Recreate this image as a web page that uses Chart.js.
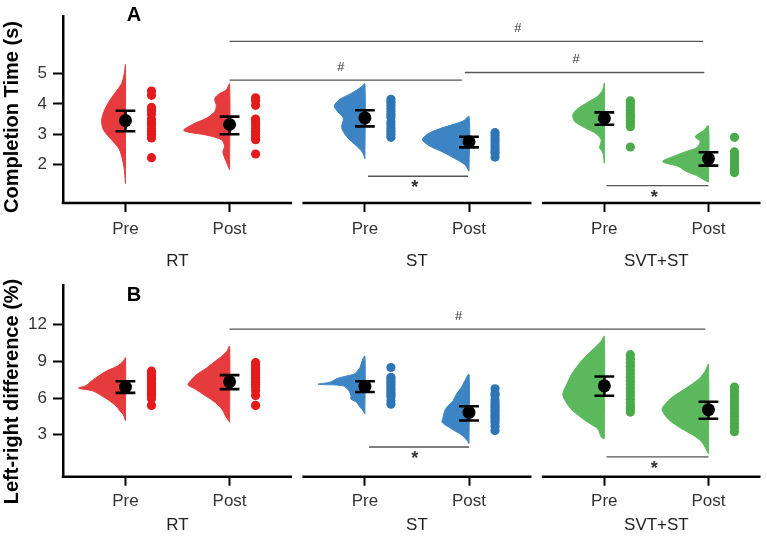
<!DOCTYPE html>
<html>
<head>
<meta charset="utf-8">
<script src="https://cdn.jsdelivr.net/npm/chart.js@4.4.0/dist/chart.umd.min.js"></script>
<style>
  html, body { margin: 0; padding: 0; background: #fff; }
  #wrap { position: relative; width: 767px; height: 538px; }
  canvas { position: absolute; left: 0; }
</style>
</head>
<body>
<div id="wrap">
  <canvas id="chartA" width="767" height="269" style="top:0"></canvas>
  <canvas id="chartB" width="767" height="269" style="top:269px"></canvas>
</div>
<script>
// raincloud plots: half violin + mean/CI + raw points, three training groups

const groups = ['RT', 'ST', 'SVT+ST'];
const phases = ['Pre', 'Post'];
const dotColors = ['#e41a1c', '#2e75b5', '#4aaa4a'];
const violinColors = ['#e63b3d', '#3c84c4', '#5cb85c'];

// A: completion time (s), order RT-Pre, RT-Post, ST-Pre, ST-Post, SVT-Pre, SVT-Post
const timeTicks = [2, 3, 4, 5];
const timeMean = [3.45, 3.32, 3.54, 2.75, 3.52, 2.20];
const timeLow  = [3.10, 3.00, 3.26, 2.57, 3.31, 1.97];
const timeHigh = [3.77, 3.58, 3.79, 2.92, 3.72, 2.41];
const timeRaw = [
  [4.42, 4.28, 3.88, 3.78, 3.66, 3.5, 3.4, 3.3, 3.18, 3.08, 2.98, 2.88, 2.23],
  [4.2, 4.1, 3.95, 3.5, 3.4, 3.3, 3.2, 3.1, 3.0, 2.9, 2.82, 2.35],
  [4.15, 4.05, 3.95, 3.85, 3.75, 3.65, 3.55, 3.4, 3.3, 3.2, 3.1, 3.0, 2.9],
  [3.05, 2.95, 2.85, 2.75, 2.65, 2.55, 2.45, 2.38, 2.25],
  [4.1, 4.0, 3.9, 3.8, 3.7, 3.62, 3.55, 3.45, 3.35, 3.25, 2.58],
  [2.9, 2.42, 2.32, 2.22, 2.12, 2.02, 1.92, 1.82, 1.74]
];
// half-violin density as [value, density]
const timeDens = [
  [[1.38,0],[1.89,1.3],[2.2,3.3],[2.51,6.3],[2.82,14],[3.12,21.7],[3.43,24],[3.74,21.7],[4.05,17],[4.35,10.7],[4.66,4],[4.97,1.3],[5.28,0]],
  [[1.84,0],[1.89,0.7],[2.1,3.3],[2.41,6.7],[2.61,5],[2.82,8.3],[2.97,23],[3.12,46],[3.33,36.7],[3.53,23],[3.74,15],[3.94,13.3],[4.15,15],[4.3,11.7],[4.46,3.3],[4.66,0]],
  [[2.2,0],[2.41,2.5],[2.61,8.3],[2.92,18.3],[3.22,23.3],[3.53,21.7],[3.74,27.3],[3.94,30.7],[4.15,25],[4.35,13.3],[4.56,3.3],[4.66,0]],
  [[1.79,0],[2.0,4.3],[2.2,14.3],[2.41,26],[2.61,39.3],[2.82,46.7],[3.02,41],[3.22,26],[3.43,6],[3.58,0]],
  [[2.05,0],[2.41,1.7],[2.56,5],[2.66,4],[2.82,3.3],[3.02,8.3],[3.22,20],[3.43,30],[3.64,31.7],[3.84,26.7],[4.05,16.7],[4.25,6.7],[4.46,1.7],[4.68,0]],
  [[1.43,0],[1.48,3.3],[1.64,11.7],[1.79,23],[1.94,30],[2.1,46],[2.3,33],[2.46,20],[2.56,11.7],[2.76,8.3],[2.92,13.3],[3.12,5],[3.28,0]]
];
const timeSig = [
  {x1: 2.0, x2: 6.55, y: 6.05, lx: 4.77, label: '#'},
  {x1: 2.0, x2: 4.23, y: 4.78, lx: 3.07, label: '#'},
  {x1: 4.26, x2: 6.56, y: 5.03, lx: 5.33, label: '#'},
  {x1: 3.33, x2: 4.29, y: 1.62, lx: 3.78, label: '*'},
  {x1: 5.62, x2: 6.6, y: 1.31, lx: 6.08, label: '*'}
];

// B: left-right difference (%)
const lrTicks = [3, 6, 9, 12];
const lrMean = [6.90, 7.33, 6.95, 4.83, 7.00, 5.05];
const lrLow  = [6.42, 6.73, 6.50, 4.16, 6.19, 4.30];
const lrHigh = [7.38, 7.88, 7.38, 5.33, 7.77, 5.70];
const lrRaw = [
  [8.2, 8.0, 7.8, 7.6, 7.4, 7.2, 7.0, 6.8, 6.6, 6.4, 6.2, 5.95, 5.4],
  [8.9, 8.7, 8.5, 8.3, 8.1, 7.9, 7.7, 7.5, 7.3, 7.1, 6.9, 6.6, 6.2, 5.4],
  [8.5, 7.7, 7.5, 7.3, 7.1, 6.9, 6.7, 6.5, 6.3, 6.1, 5.8, 5.5],
  [6.76, 6.4, 6.2, 5.85, 5.6, 5.4, 5.2, 5.0, 4.8, 4.6, 4.4, 4.2, 4.0, 3.7, 3.35],
  [9.55, 9.2, 8.9, 8.6, 8.3, 8.0, 7.7, 7.4, 7.1, 6.8, 6.5, 6.2, 5.9, 5.6, 5.3, 5.1, 4.85],
  [6.9, 6.6, 6.3, 6.0, 5.7, 5.4, 5.1, 4.8, 4.5, 4.2, 3.9, 3.6, 3.25]
];
const lrDens = [
  [[4.16,0],[4.7,2.5],[4.97,6],[5.24,8],[5.78,16],[6.19,24],[6.59,33],[6.81,47],[7.0,40],[7.4,34],[7.81,27],[8.21,19],[8.62,8],[9.02,2.3],[9.29,0]],
  [[4.02,0],[4.16,1],[4.56,4.3],[5.1,7.7],[5.64,14.3],[6.19,24.3],[6.73,34.3],[7.08,41.7],[7.4,39.3],[7.94,32.7],[8.48,22.7],[9.02,14.3],[9.43,7.7],[9.83,2.7],[10.24,0]],
  [[4.7,0],[5.1,3],[5.24,5],[5.64,8],[5.92,14],[6.19,14],[6.59,16],[7.0,22],[7.13,47],[7.3,35],[7.62,27],[7.95,11],[8.08,9],[8.48,5],[9.02,3],[9.43,0]],
  [[2.27,0],[2.54,2],[2.8,5],[3.08,9],[3.35,15],[3.61,20],[4.02,27],[4.43,26],[4.97,24.3],[5.37,21],[5.78,16],[6.32,12.7],[6.86,7.7],[7.4,4.3],[7.94,0]],
  [[2.67,0],[2.8,3],[3.48,6.7],[4.02,16.7],[4.97,31.7],[5.6,38],[6.32,41.7],[7.13,37.7],[7.94,33],[8.48,28.3],[9.02,23.3],[9.57,16.7],[10.1,10],[10.65,3.3],[11.05,0]],
  [[1.46,0],[1.86,2.7],[2.4,6.7],[2.94,15],[3.48,26.7],[4.02,36.7],[4.56,43.3],[5.1,46.7],[5.51,43.3],[6.05,36.7],[6.59,26.7],[7.13,16.7],[7.67,8.3],[8.21,3.3],[8.76,0]]
];
const lrSig = [
  {x1: 2.0, x2: 6.57, y: 11.64, lx: 4.2, label: '#'},
  {x1: 3.34, x2: 4.3, y: 1.99, lx: 3.78, label: '*'},
  {x1: 5.62, x2: 6.6, y: 1.18, lx: 6.08, label: '*'}
];

// layout of the shared x scale: facets 2.3 units apart
const FACET_STEP = 2.3;
const DOT_DX = 0.25;
const CAP = 0.095;
const DENS_PX = 104.5;
const FONT = '"Liberation Sans", Arial, sans-serif';

function pos(i) { return 1 + (i % 2) + FACET_STEP * Math.floor(i / 2); }
const catPos = [0, 1, 2, 3, 4, 5].map(pos);

Chart.defaults.font.family = FONT;
Chart.defaults.font.size = 17;
Chart.defaults.color = '#333';

function buildDatasets(cfg) {
  const ds = [];
  // means
  ds.push({
    type: 'scatter', order: 0,
    data: cfg.mean.map((m, i) => ({x: pos(i), y: m})),
    pointRadius: 6.5, pointBackgroundColor: '#000', pointBorderWidth: 0
  });
  // error bars with caps
  const eb = [];
  cfg.mean.forEach((m, i) => {
    const c = pos(i);
    eb.push({x: c, y: cfg.low[i]}, {x: c, y: cfg.high[i]}, {x: c, y: null},
            {x: c - CAP, y: cfg.high[i]}, {x: c + CAP, y: cfg.high[i]}, {x: c, y: null},
            {x: c - CAP, y: cfg.low[i]}, {x: c + CAP, y: cfg.low[i]}, {x: c, y: null});
  });
  ds.push({
    type: 'line', order: 1, data: eb, spanGaps: false,
    borderColor: '#000', borderWidth: 2.6, pointRadius: 0, fill: false, tension: 0
  });
  // raw points and half violins
  cfg.raw.forEach((vals, i) => {
    const g = Math.floor(i / 2);
    ds.push({
      type: 'scatter', order: 2,
      data: vals.map(v => ({x: pos(i) + DOT_DX, y: v})),
      pointRadius: 4.6, pointBackgroundColor: dotColors[g], pointBorderWidth: 0
    });
  });
  cfg.dens.forEach((prof, i) => {
    const g = Math.floor(i / 2);
    const c = pos(i);
    const pts = prof.map(([v, d]) => ({x: c - d / DENS_PX, y: v}));
    pts.push({x: c, y: prof[0][0]});
    ds.push({
      type: 'line', order: 3, data: pts, fill: 'shape',
      backgroundColor: violinColors[g], borderColor: violinColors[g],
      borderWidth: 1, pointRadius: 0, tension: 0.3
    });
  });
  return ds;
}

function decorPlugin(cfg) {
  return {
    id: 'decor',
    afterDraw(chart) {
      const {ctx, chartArea: a, scales: {x, y}} = chart;
      ctx.save();
      // broken x axis, one piece per facet
      ctx.strokeStyle = '#000';
      ctx.lineWidth = 2.5;
      groups.forEach((g, k) => {
        const x0 = x.getPixelForValue(0.4 + FACET_STEP * k) - (k === 0 ? 1.25 : 0);
        const x1 = Math.min(x.getPixelForValue(2.6 + FACET_STEP * k), a.right);
        ctx.beginPath();
        ctx.moveTo(x0, a.bottom);
        ctx.lineTo(x1, a.bottom);
        ctx.stroke();
      });
      // facet names
      ctx.fillStyle = '#222';
      ctx.font = '17px ' + FONT;
      ctx.textAlign = 'center';
      ctx.textBaseline = 'middle';
      groups.forEach((g, k) => ctx.fillText(g, x.getPixelForValue(1.5 + FACET_STEP * k), cfg.groupY));
      // significance lines
      cfg.sig.forEach(b => {
        const py = y.getPixelForValue(b.y);
        ctx.strokeStyle = '#555';
        ctx.lineWidth = 1.3;
        ctx.beginPath();
        ctx.moveTo(x.getPixelForValue(b.x1), py);
        ctx.lineTo(x.getPixelForValue(b.x2), py);
        ctx.stroke();
        ctx.fillStyle = '#333';
        if (b.label === '#') {
          ctx.font = '13px ' + FONT;
          ctx.fillText(b.label, x.getPixelForValue(b.lx), py - 13);
        } else {
          ctx.font = 'bold 18px ' + FONT;
          ctx.fillText(b.label, x.getPixelForValue(b.lx), py + 12);
        }
      });
      // panel letter
      ctx.fillStyle = '#000';
      ctx.font = 'bold 20px ' + FONT;
      ctx.fillText(cfg.letter, a.left + 71, cfg.letterY);
      // y title
      ctx.translate(12, cfg.titleY);
      ctx.rotate(-Math.PI / 2);
      ctx.font = 'bold 20px ' + FONT;
      ctx.fillText(cfg.title, 0, 0);
      ctx.restore();
    }
  };
}

function makeChart(id, cfg) {
  return new Chart(document.getElementById(id), {
    type: 'scatter',
    data: {datasets: buildDatasets(cfg)},
    options: {
      responsive: false,
      animation: false,
      devicePixelRatio: 1,
      layout: {padding: {top: cfg.padTop, right: 4, left: 0, bottom: 0}},
      plugins: {legend: {display: false}, tooltip: {enabled: false}},
      scales: {
        x: {
          type: 'linear', min: 0.4, max: 7.1,
          afterBuildTicks: s => { s.ticks = catPos.map(v => ({value: v})); },
          afterFit: s => { s.height = cfg.xAxisH; },
          ticks: {autoSkip: false, maxRotation: 0, padding: cfg.xTickPad, callback: (v, i) => phases[i % 2]},
          grid: {drawOnChartArea: false, drawTicks: true, tickLength: 9, tickColor: '#000', tickWidth: 2},
          border: {display: false}
        },
        y: {
          type: 'linear', min: cfg.yMin, max: cfg.yMax,
          afterBuildTicks: s => { s.ticks = cfg.ticks.map(v => ({value: v})); },
          afterFit: s => { s.width = 63; },
          ticks: {padding: 6},
          grid: {drawOnChartArea: false, drawTicks: true, tickLength: 10, tickColor: '#000', tickWidth: 2},
          border: {display: true, color: '#000', width: 2.5}
        }
      }
    },
    plugins: [decorPlugin(cfg)]
  });
}

makeChart('chartA', {
  mean: timeMean, low: timeLow, high: timeHigh, raw: timeRaw, dens: timeDens, sig: timeSig,
  ticks: timeTicks, yMin: 0.74, yMax: 6.88,
  padTop: 3, xAxisH: 66, xTickPad: 7, groupY: 261,
  letter: 'A', letterY: 15, title: 'Completion Time (s)', titleY: 117
});
makeChart('chartB', {
  mean: lrMean, low: lrLow, high: lrHigh, raw: lrRaw, dens: lrDens, sig: lrSig,
  ticks: lrTicks, yMin: -0.44, yMax: 15.24,
  padTop: 14.3, xAxisH: 61.3, xTickPad: 5, groupY: 256.5,
  letter: 'B', letterY: 26, title: 'Left-right difference (%)', titleY: 122.5
});
</script>
</body>
</html>
